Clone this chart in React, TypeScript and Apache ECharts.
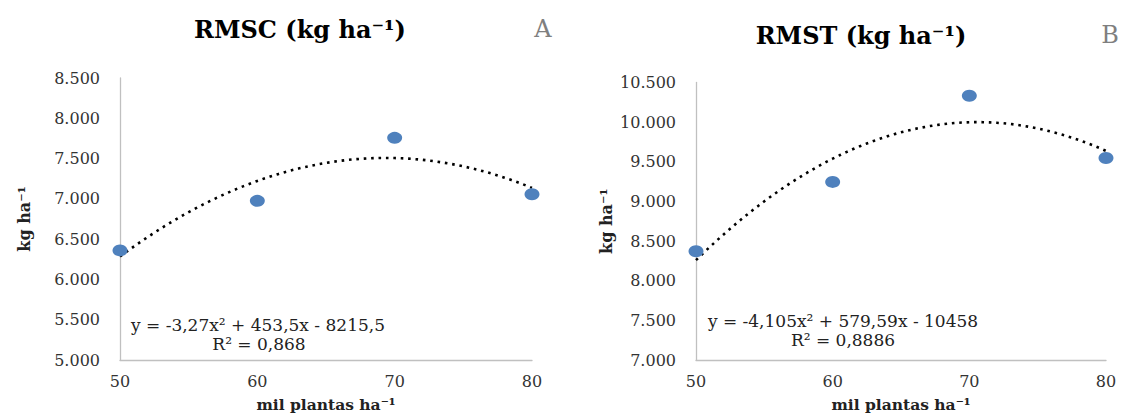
import React, { useEffect, useRef } from "react";
import * as echarts from "echarts";

const xCategories = [50, 60, 70, 80];
const rmscValues = [6360, 6975, 7757, 7057];
const rmstValues = [8372, 9246, 10332, 9548];
const rmscCoef = [-3.27, 453.5, -8215.5];
const rmstCoef = [-4.105, 579.59, -10458];
const rmscTicks = { min: 5000, max: 8500, interval: 500 };
const rmstTicks = { min: 7000, max: 10500, interval: 500 };
const xTicks = { min: 50, max: 80, interval: 10 };

const titleA = "RMSC (kg ha⁻¹)";
const titleB = "RMST (kg ha⁻¹)";
const eqA = "y = -3,27x² + 453,5x - 8215,5";
const r2A = "R² = 0,868";
const eqB = "y = -4,105x² + 579,59x - 10458";
const r2B = "R² = 0,8886";
const yName = "kg ha⁻¹";
const xName = "mil plantas ha⁻¹";

const FONT = "DejaVu Serif";

function trend(coef: number[]) {
  const pts: number[][] = [];
  for (let x = 50; x <= 80.0001; x += 0.5) {
    pts.push([x, coef[0] * x * x + coef[1] * x + coef[2]]);
  }
  return pts;
}

function fmt(v: number) {
  return (v / 1000).toFixed(3);
}

export default function App() {
  const ref = useRef<HTMLDivElement>(null);
  useEffect(() => {
    const chart = echarts.init(ref.current!, null, { renderer: "svg" });
    const axisLine = { show: true, lineStyle: { color: "#c0c0c0", width: 1.3 } };
    const labelStyle = { fontFamily: FONT, fontSize: 16, color: "#333" };
    const xAxisBase = (gi: number) => ({
      type: "value",
      gridIndex: gi,
      min: xTicks.min,
      max: xTicks.max,
      interval: xTicks.interval,
      axisLine,
      axisTick: { show: false },
      splitLine: { show: false },
      axisLabel: { ...labelStyle, margin: 13 },
      name: xName,
      nameLocation: "middle",
      nameGap: 36,
      nameTextStyle: { fontFamily: FONT, fontSize: 15.5, fontWeight: "bold", color: "#222" },
    });
    const yAxisBase = (gi: number, t: any, gap: number) => ({
      type: "value",
      gridIndex: gi,
      min: t.min,
      max: t.max,
      interval: t.interval,
      axisLine,
      axisTick: { show: false },
      splitLine: { show: false },
      axisLabel: { ...labelStyle, margin: 20, formatter: fmt },
      name: yName,
      nameLocation: "middle",
      nameRotate: 90,
      nameGap: gap,
      nameTextStyle: { fontFamily: FONT, fontSize: 16, fontWeight: "bold", color: "#222" },
    });
    const scatterStyle = {
      type: "scatter",
      symbol: "circle",
      symbolSize: [15, 12],
      itemStyle: { color: "#4f81bd", opacity: 1 },
      z: 3,
    };
    const lineStyle = {
      type: "line",
      showSymbol: false,
      symbol: "none",
      lineStyle: { color: "#000", width: 2.6, type: [2.6, 4.8] },
      z: 2,
    };
    const txt = (x: number, y: number, text: string, size: number, weight = "normal", color = "#222") => ({
      type: "text",
      x,
      y,
      style: {
        text,
        fontFamily: FONT,
        fontSize: size,
        fontWeight: weight,
        fill: color,
        textAlign: "center",
        textVerticalAlign: "middle",
        align: "center",
        verticalAlign: "middle",
      },
    });
    chart.setOption({
      animation: false,
      grid: [
        { left: 120, top: 78, width: 412, height: 284 },
        { left: 696, top: 82.5, width: 410, height: 278 },
      ],
      xAxis: [xAxisBase(0), xAxisBase(1)],
      yAxis: [yAxisBase(0, rmscTicks, 88), yAxisBase(1, rmstTicks, 82)],
      series: [
        { ...lineStyle, xAxisIndex: 0, yAxisIndex: 0, data: trend(rmscCoef) },
        { ...scatterStyle, xAxisIndex: 0, yAxisIndex: 0, data: xCategories.map((x, i) => [x, rmscValues[i]]) },
        { ...lineStyle, xAxisIndex: 1, yAxisIndex: 1, data: trend(rmstCoef) },
        { ...scatterStyle, xAxisIndex: 1, yAxisIndex: 1, data: xCategories.map((x, i) => [x, rmstValues[i]]) },
      ],
      graphic: [
        txt(300, 29, titleA, 24, "bold", "#000"),
        txt(543, 29, "A", 24, "normal", "#7f7f7f"),
        txt(861, 35, titleB, 24, "bold", "#000"),
        txt(1110, 35, "B", 24, "normal", "#7f7f7f"),
        txt(258, 325, eqA, 17),
        txt(259, 344, r2A, 17),
        txt(843, 321, eqB, 17),
        txt(843, 340, r2B, 17),
      ],
    });
    return () => chart.dispose();
  }, []);
  return (
    <div
      ref={ref}
      style={{ position: "fixed", left: 0, top: 0, width: 1121, height: 417, background: "#fff" }}
    />
  );
}
